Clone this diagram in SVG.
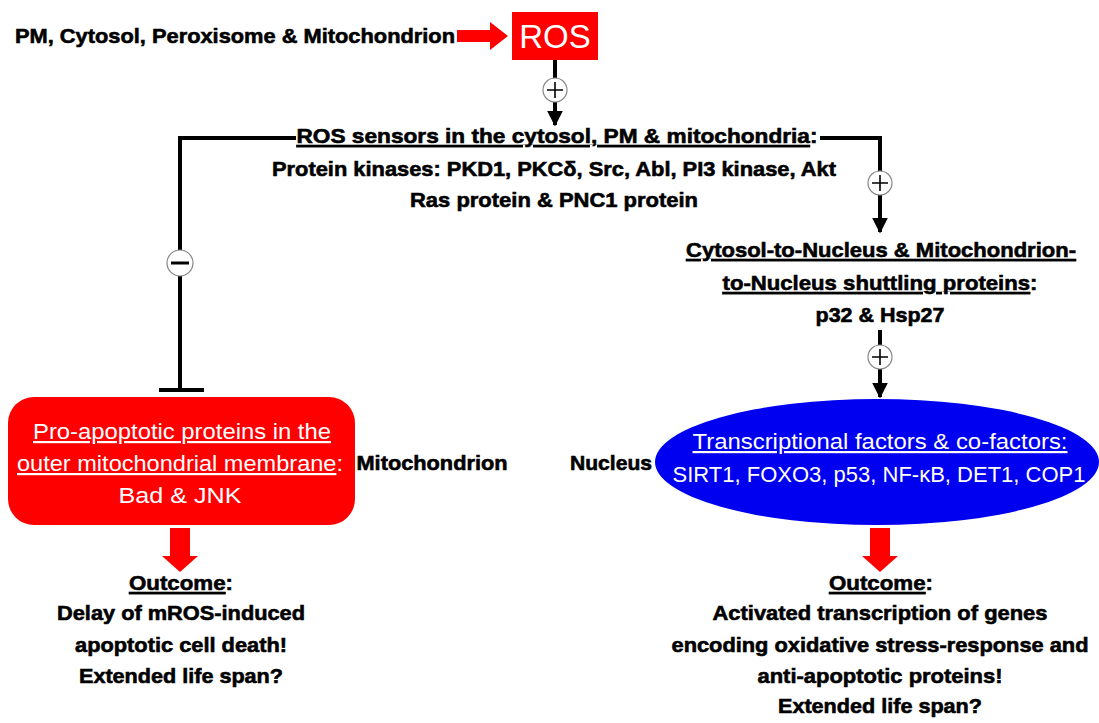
<svg xmlns="http://www.w3.org/2000/svg" width="1099" height="723" viewBox="0 0 1099 723">
<style>
.b{font-family:"Liberation Sans",Arial,sans-serif;font-weight:bold;font-size:21px;fill:#000;stroke:#000;stroke-width:0.6;text-anchor:middle}
.w{font-family:"Liberation Sans",Arial,sans-serif;font-size:22px;fill:#fff;text-anchor:middle}
.u{text-decoration:underline}
.ln{stroke:#000;stroke-width:4;fill:none}
.sg{fill:#fff;stroke:#888;stroke-width:1.2}
.sym{stroke:#000;stroke-width:1.6}
</style>
<defs>
<marker id="ah" viewBox="0 0 10 10" refX="9" refY="5" markerWidth="4" markerHeight="4" orient="auto" markerUnits="strokeWidth">
<path d="M0,0 L10,5 L0,10 Z" fill="#000"/>
</marker>
</defs>
<g id="source"><text class="b" x="235" y="43" textLength="440" lengthAdjust="spacingAndGlyphs">PM, Cytosol, Peroxisome &amp; Mitochondrion</text></g>
<g id="ros"><rect x="512" y="12" width="86" height="48" fill="#f00"/><text x="555" y="48" font-family="Liberation Sans,Arial,sans-serif" font-size="33" fill="#fff" text-anchor="middle">ROS</text></g>
<g id="sensors">
<text class="b" x="557" y="143" textLength="521" lengthAdjust="spacingAndGlyphs"><tspan class="u">ROS sensors in the cytosol, PM &amp; mitochondria</tspan>:</text>
<text class="b" x="554" y="176" textLength="564" lengthAdjust="spacingAndGlyphs">Protein kinases: PKD1, PKCδ, Src, Abl, PI3 kinase, Akt</text>
<text class="b" x="554" y="207" textLength="288" lengthAdjust="spacingAndGlyphs">Ras protein &amp; PNC1 protein</text>
</g>
<g id="shuttle">
<text class="b" x="881" y="257" textLength="390" lengthAdjust="spacingAndGlyphs"><tspan class="u">Cytosol-to-Nucleus &amp; Mitochondrion-</tspan></text>
<text class="b" x="880" y="290" textLength="315" lengthAdjust="spacingAndGlyphs"><tspan class="u">to-Nucleus shuttling proteins</tspan>:</text>
<text class="b" x="880" y="322" textLength="129" lengthAdjust="spacingAndGlyphs">p32 &amp; Hsp27</text>
</g>
<g id="proapoptotic">
<rect x="8" y="397" width="347" height="128" rx="26" fill="#f00"/>
<text class="w" x="182" y="439" textLength="298" lengthAdjust="spacingAndGlyphs"><tspan class="u">Pro-apoptotic proteins in the</tspan></text>
<text class="w" x="180" y="471" textLength="326" lengthAdjust="spacingAndGlyphs"><tspan class="u">outer mitochondrial membrane</tspan>:</text>
<text class="w" x="180" y="503" textLength="123" lengthAdjust="spacingAndGlyphs">Bad &amp; JNK</text>
</g>
<g id="mito-label"><text class="b" x="432" y="470" textLength="151" lengthAdjust="spacingAndGlyphs">Mitochondrion</text></g>
<g id="transcription">
<ellipse cx="877" cy="462" rx="222" ry="63" fill="#0000f0"/>
<text class="w" x="880" y="449" textLength="375" lengthAdjust="spacingAndGlyphs"><tspan class="u">Transcriptional factors &amp; co-factors:</tspan></text>
<text class="w" x="879" y="482" textLength="413" lengthAdjust="spacingAndGlyphs">SIRT1, FOXO3, p53, NF-κB, DET1, COP1</text>
</g>
<g id="nucleus-label"><text class="b" x="611" y="470" textLength="82" lengthAdjust="spacingAndGlyphs">Nucleus</text></g>
<g id="outcome-left">
<text class="b" x="181" y="590" textLength="104" lengthAdjust="spacingAndGlyphs"><tspan class="u">Outcome</tspan>:</text>
<text class="b" x="181" y="620" textLength="248" lengthAdjust="spacingAndGlyphs">Delay of mROS-induced</text>
<text class="b" x="181" y="652" textLength="212" lengthAdjust="spacingAndGlyphs">apoptotic cell death!</text>
<text class="b" x="181" y="683" textLength="204" lengthAdjust="spacingAndGlyphs">Extended life span?</text>
</g>
<g id="outcome-right">
<text class="b" x="881" y="590" textLength="104" lengthAdjust="spacingAndGlyphs"><tspan class="u">Outcome</tspan>:</text>
<text class="b" x="880" y="620" textLength="335" lengthAdjust="spacingAndGlyphs">Activated transcription of genes</text>
<text class="b" x="880" y="652" textLength="417" lengthAdjust="spacingAndGlyphs">encoding oxidative stress-response and</text>
<text class="b" x="880" y="683" textLength="245" lengthAdjust="spacingAndGlyphs">anti-apoptotic proteins!</text>
<text class="b" x="880" y="713" textLength="204" lengthAdjust="spacingAndGlyphs">Extended life span?</text>
</g>
<g id="connectors">
<path d="M457,30 H490 V22 L508,36 L490,50 V42 H457 Z" fill="#f00"/>
<line class="ln" x1="555" y1="60" x2="555" y2="125" marker-end="url(#ah)"/>
<path class="ln" d="M296,138 H180 V390"/>
<line class="ln" x1="159" y1="390" x2="204" y2="390"/>
<path class="ln" d="M820,138 H880 V232" marker-end="url(#ah)"/>
<line class="ln" x1="880" y1="330" x2="880" y2="397" marker-end="url(#ah)"/>
<path d="M170,528 H190 V556 H198 L180,572 L162,556 H170 Z" fill="#f00"/>
<path d="M870,528 H890 V556 H898 L880,572 L862,556 H870 Z" fill="#f00"/>
<circle class="sg" cx="555" cy="90" r="12"/><path class="sym" d="M547,90 H563 M555,82 V98"/>
<circle class="sg" cx="880" cy="183" r="12"/><path class="sym" d="M872,183 H888 M880,175 V191"/>
<circle class="sg" cx="880" cy="357" r="12"/><path class="sym" d="M872,357 H888 M880,349 V365"/>
<circle class="sg" cx="180" cy="263" r="13"/><path d="M171,263 H189" stroke="#000" stroke-width="3"/>
</g>
</svg>
